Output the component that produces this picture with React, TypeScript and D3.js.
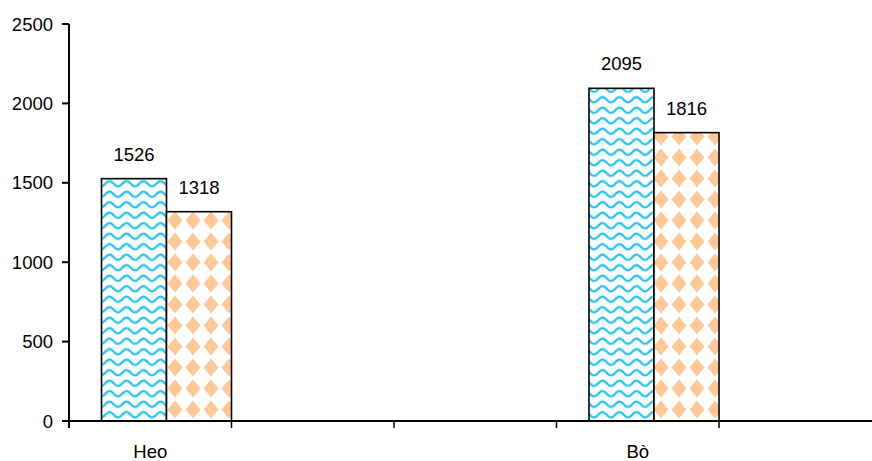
import React from "react";
import * as d3 from "d3";

const categories = ["Heo", "", "", "Bò", ""];
const seriesNames = ["A", "B"];
const seriesA: (number | null)[] = [1526, null, null, 2095, null];
const seriesB: (number | null)[] = [1318, null, null, 1816, null];
const yTicks = [0, 500, 1000, 1500, 2000, 2500];

const W = 872;
const H = 461;
const margin = { left: 69, right: -9.5, top: 24, bottom: 40 };
const FONT = "'Liberation Sans', Arial, sans-serif";

function wavePath(w: number, h: number): string {
  const pts: [number, number][] = [];
  for (let i = 0; i <= 34; i++) {
    const px = (i / 34) * w;
    const py = h / 2 + 2.6 * Math.cos((px / w) * 2 * Math.PI);
    pts.push([px, py]);
  }
  return d3.line()(pts) || "";
}

export default function App() {
  const x = d3
    .scaleBand<string>()
    .domain(categories.map((_, i) => String(i)))
    .range([margin.left, W - margin.right])
    .padding(0);
  const bw = x.bandwidth();
  const inner = d3
    .scaleBand<string>()
    .domain(seriesNames)
    .range([bw * 0.2, bw])
    .padding(0);
  const y = d3
    .scaleLinear()
    .domain([0, 2500])
    .range([H - margin.bottom, margin.top]);
  const y0 = y(0);
  const series = [seriesA, seriesB];
  const fills = ["url(#wave)", "url(#diamond)"];

  const xTickPos = categories
    .map((_, i) => x(String(i))!)
    .concat([x(String(categories.length - 1))! + bw]);

  return (
    <svg width={W} height={H} style={{ position: "absolute", left: 0, top: 0 }}>
      <defs>
        <pattern id="wave" patternUnits="userSpaceOnUse" width={17} height={10.5} x={101} y={0}>
          <rect width={17} height={10.5} fill="#ffffff" />
          <path d={wavePath(17, 10.5)} fill="none" stroke="#27c5f2" strokeWidth={2.3} />
        </pattern>
        <pattern id="diamond" patternUnits="userSpaceOnUse" width={18} height={21} x={166} y={0}>
          <rect width={18} height={21} fill="#ffffff" />
          <path d="M9,1.5 L16.5,10.5 L9,19.5 L1.5,10.5 Z" fill="#ffc896" />
        </pattern>
      </defs>

      {series.map((vals, si) =>
        vals.map((v, ci) => {
          if (v == null) return null;
          const bx = x(String(ci))! + inner(seriesNames[si])!;
          const by = y(v);
          return (
            <g key={`${si}-${ci}`}>
              <rect
                x={bx}
                y={by}
                width={inner.bandwidth()}
                height={y0 - by}
                fill={fills[si]}
                stroke="#000"
                strokeWidth={1.6}
              />
              <text
                x={bx + inner.bandwidth() / 2}
                y={by - 18}
                textAnchor="middle"
                fontFamily={FONT}
                fontSize={18.5}
                fill="#000"
              >
                {v}
              </text>
            </g>
          );
        })
      )}

      {/* y axis */}
      <line x1={margin.left} x2={margin.left} y1={y(2500)} y2={y0 + 7} stroke="#000" strokeWidth={2} />
      {yTicks.map((t) => (
        <g key={t}>
          <line x1={margin.left - 7} x2={margin.left} y1={y(t)} y2={y(t)} stroke="#000" strokeWidth={2} />
          <text
            x={margin.left - 16}
            y={y(t) + 6.5}
            textAnchor="end"
            fontFamily={FONT}
            fontSize={18.5}
            fill="#000"
          >
            {t}
          </text>
        </g>
      ))}

      {/* x axis */}
      <line x1={margin.left - 5} x2={W} y1={y0} y2={y0} stroke="#000" strokeWidth={2} />
      {xTickPos.map((p, i) => (
        <line key={i} x1={p} x2={p} y1={y0} y2={y0 + 7} stroke="#000" strokeWidth={1.5} />
      ))}
      {categories.map((c, i) =>
        c ? (
          <text
            key={i}
            x={x(String(i))! + bw * 0.5}
            y={458}
            textAnchor="middle"
            fontFamily={FONT}
            fontSize={18.5}
            fill="#000"
          >
            {c}
          </text>
        ) : null
      )}
    </svg>
  );
}
